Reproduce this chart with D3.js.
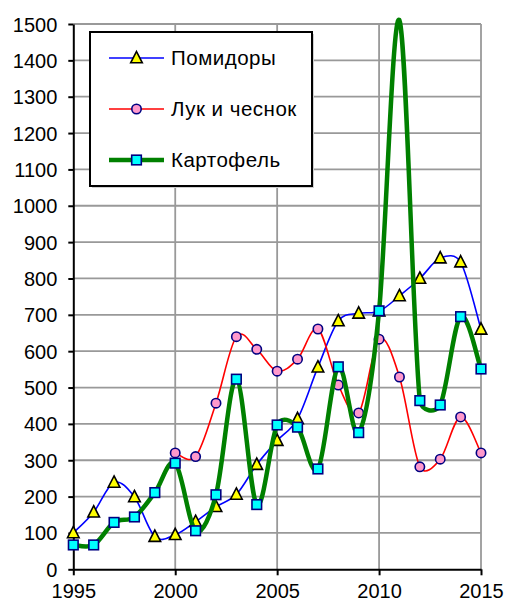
<!DOCTYPE html>
<html>
<head>
<meta charset="utf-8">
<script src="https://cdn.jsdelivr.net/npm/d3@7"></script>
<style>
  body { margin: 0; background: #fff; }
  text { font-family: "Liberation Sans", Arial, sans-serif; fill: #000; }
</style>
</head>
<body>
<div class="board"></div>
<script>
var width = 506,
    height = 605;

var years = [1995, 1996, 1997, 1998, 1999, 2000, 2001, 2002, 2003, 2004, 2005,
             2006, 2007, 2008, 2009, 2010, 2011, 2012, 2013, 2014, 2015]

var tomatoes = [100, 157, 239, 199, 90, 95, 131, 172, 206, 288, 354,
                414, 556, 683, 704, 710, 752, 800, 856, 845, 660]
var onions = [null, null, null, null, null, 320, 310, 457, 640, 605, 545,
              578, 661, 507, 430, 633, 529, 282, 303, 419, 320]
var potatoes = [67, 67, 129, 144, 211, 292, 106, 205, 523, 178, 397,
                391, 276, 557, 376, 711, 1510, 464, 452, 695, 551]

var seriesNames = ["Помидоры", "Лук и чеснок", "Картофель"]

var xTicks = [1995, 2000, 2005, 2010, 2015]
var yTicks = d3.range(0, 1600, 100)

var svg = d3.select(".board")
    .append("svg")
    .attr("width", width)
    .attr("height", height)

var x = d3.scaleLinear()
    .domain([1995, 2015])
    .range([73.3, 481])

var y = d3.scaleLinear()
    .domain([0, 1500])
    .range([569.3, 24])

const GRID = "#999999"

// grid
svg.append("g")
    .selectAll("line")
    .data(yTicks.filter(d => d > 0))
    .enter()
    .append("line")
    .attr("x1", x(1995))
    .attr("x2", x(2015))
    .attr("y1", d => y(d))
    .attr("y2", d => y(d))
    .attr("stroke", GRID)
    .attr("stroke-width", 1.8)

svg.append("g")
    .selectAll("line")
    .data(xTicks.filter(d => d > 1995))
    .enter()
    .append("line")
    .attr("x1", d => x(d))
    .attr("x2", d => x(d))
    .attr("y1", y(0))
    .attr("y2", y(1500))
    .attr("stroke", GRID)
    .attr("stroke-width", 1.8)

// axes
let xAxis = svg.append("g")
    .attr("transform", `translate(0, ${y(0)})`)
    .call(d3.axisBottom(x).tickValues(xTicks).tickFormat(d3.format("d")).tickSize(6).tickSizeOuter(0))

let yAxis = svg.append("g")
    .attr("transform", `translate(${x(1995)}, 0)`)
    .call(d3.axisLeft(y).tickValues(yTicks).tickFormat(d3.format("d")).tickSize(5).tickSizeOuter(0))

;[xAxis, yAxis].forEach(a => {
    a.select(".domain").attr("stroke", "#000").attr("stroke-width", 2)
    a.selectAll(".tick line").attr("stroke", "#000").attr("stroke-width", 2)
    a.selectAll(".tick text")
        .attr("font-size", 20)
        .attr("font-family", "Liberation Sans, Arial, sans-serif")
        .attr("fill", "#000")
})
xAxis.selectAll(".tick text").attr("dy", "0.95em").attr("y", 10)
yAxis.selectAll(".tick text").attr("x", -16).attr("dy", "0.35em")

// spreadsheet-style smoothed line: bezier arms of 1/6 the neighbour chord,
// never longer than half of the segment itself
function smoothPath(pts) {
    let p = d3.path()
    let dist = (a, b) => Math.hypot(b[0] - a[0], b[1] - a[1])
    p.moveTo(pts[0][0], pts[0][1])
    for (let i = 0; i < pts.length - 1; i++) {
        let p0 = pts[Math.max(i - 1, 0)],
            p1 = pts[i],
            p2 = pts[i + 1],
            p3 = pts[Math.min(i + 2, pts.length - 1)]
        let d02 = dist(p0, p2), d12 = dist(p1, p2), d13 = dist(p1, p3)
        let f = (d02 / 6 < d12 / 2 || d02 == 0) ? 1 / 6 : d12 / (2 * d02)
        let g = (d13 / 6 < d12 / 2 || d13 == 0) ? 1 / 6 : d12 / (2 * d13)
        p.bezierCurveTo(
            p1[0] + (p2[0] - p0[0]) * f, p1[1] + (p2[1] - p0[1]) * f,
            p2[0] - (p3[0] - p1[0]) * g, p2[1] - (p3[1] - p1[1]) * g,
            p2[0], p2[1])
    }
    return p.toString()
}

let series = [
    { name: seriesNames[0], values: tomatoes, color: "#0000ff", width: 1.6, marker: "triangle" },
    { name: seriesNames[1], values: onions, color: "#ff0000", width: 1.6, marker: "circle" },
    { name: seriesNames[2], values: potatoes, color: "#008000", width: 4.5, marker: "square" },
]

function drawMarker(g, type, cx, cy) {
    if (type == "triangle") {
        g.append("path")
            .attr("d", `M${cx},${cy - 6.5}L${cx + 5.8},${cy + 4.8}L${cx - 5.8},${cy + 4.8}Z`)
            .attr("fill", "#ffff00")
            .attr("stroke", "#000")
            .attr("stroke-width", 1.6)
    }
    else if (type == "circle") {
        g.append("circle")
            .attr("cx", cx)
            .attr("cy", cy)
            .attr("r", 4.7)
            .attr("fill", "#ff99cc")
            .attr("stroke", "#000080")
            .attr("stroke-width", 1.6)
    }
    else {
        g.append("rect")
            .attr("x", cx - 4.8)
            .attr("y", cy - 4.8)
            .attr("width", 9.6)
            .attr("height", 9.6)
            .attr("fill", "#00ffff")
            .attr("stroke", "#000080")
            .attr("stroke-width", 1.6)
    }
}

series.forEach(s => {
    let pts = years.map((yr, i) => ({ year: yr, value: s.values[i] }))
        .filter(d => d.value != null)

    let g = svg.append("g")

    g.append("path")
        .attr("fill", "none")
        .attr("stroke", s.color)
        .attr("stroke-width", s.width)
        .attr("stroke-linejoin", "round")
        .attr("d", smoothPath(pts.map(d => [x(d.year), y(d.value)])))

    // markers beyond the top of the plot are not drawn
    pts.filter(d => d.value <= 1500)
        .forEach(d => drawMarker(g, s.marker, x(d.year), y(d.value)))
})

// legend
let legend = svg.append("g")

legend.append("rect")
    .attr("x", 92)
    .attr("y", 34)
    .attr("width", 222)
    .attr("height", 154)
    .attr("fill", "#d0d0d0")

legend.append("rect")
    .attr("x", 90)
    .attr("y", 32)
    .attr("width", 222)
    .attr("height", 154)
    .attr("fill", "#fff")
    .attr("stroke", "#000")
    .attr("stroke-width", 2)

series.forEach((s, i) => {
    let ly = 58 + i * 51
    legend.append("line")
        .attr("x1", 109)
        .attr("x2", 164)
        .attr("y1", ly)
        .attr("y2", ly)
        .attr("stroke", s.color)
        .attr("stroke-width", s.width)
    drawMarker(legend, s.marker, 136.5, ly)
    legend.append("text")
        .attr("x", 171)
        .attr("y", ly)
        .attr("dy", "0.35em")
        .attr("font-size", 20.5)
        .attr("letter-spacing", 0.5)
        .text(s.name)
})
</script>
</body>
</html>
